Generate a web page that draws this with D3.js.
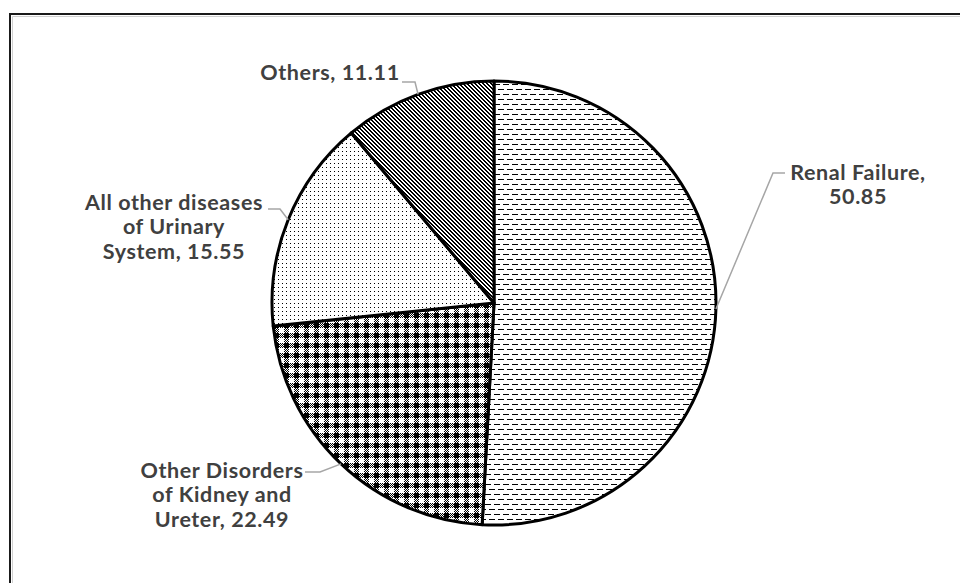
<!DOCTYPE html>
<html>
<head>
<meta charset="utf-8">
<script src="https://cdn.jsdelivr.net/npm/d3@7"></script>
<style>
  html, body { margin: 0; padding: 0; background: #fff; }
  svg { display: block; }
  .lbl { font-family: Lato, "Open Sans", sans-serif; font-weight: bold; fill: #404040; font-size: 21.5px; letter-spacing: 0.6px; }
</style>
</head>
<body>
<div id="chart"></div>
<script>
/* DATA */
const categories = ["Renal Failure", "Other Disorders of Kidney and Ureter", "All other diseases of Urinary System", "Others"];
const values = [50.85, 22.49, 15.55, 11.11];
const labelLines = [
  ["Renal Failure,", "50.85"],
  ["Other Disorders", "of Kidney and", "Ureter, 22.49"],
  ["All other diseases", "of Urinary", "System, 15.55"],
  ["Others, 11.11"]
];
const patternIds = ["hdash", "plaid", "dots", "diag"];

/* LAYOUT */
const width = 960, height = 583;
const cx = 494, cy = 303, radius = 222;
// where each label block sits (center x, first line middle y) and its leader elbow
const labelLayout = [
  { x: 858, y: 172, elbow: [773, 173], end: [785, 173] },
  { x: 222, y: 470, elbow: [320, 472], end: [305, 472] },
  { x: 174, y: 202, elbow: [280, 209], end: [268, 209] },
  { x: 330, y: 72,  elbow: [415, 82],  end: [402, 82] }
];
const lineGap = 24.5;

const svg = d3.select("#chart").append("svg")
  .attr("width", width)
  .attr("height", height);

/* PATTERNS */
const defs = svg.append("defs");

function pixelPattern(id, w, h, test) {
  const p = defs.append("pattern")
    .attr("id", id)
    .attr("patternUnits", "userSpaceOnUse")
    .attr("width", w).attr("height", h);
  p.append("rect").attr("width", w).attr("height", h).attr("fill", "#fff");
  for (let y = 0; y < h; y++) {
    for (let x = 0; x < w; x++) {
      if (test(x, y)) p.append("rect").attr("x", x).attr("y", y).attr("width", 1).attr("height", 1).attr("fill", "#000");
    }
  }
}

// horizontal dashes, rows offset
pixelPattern("hdash", 9, 10, (x, y) => (y === 1 && x < 6) || (y === 6 && (x >= 4 || x < 1)));
// plaid: big black blocks + fine checker
pixelPattern("plaid", 10, 10, (x, y) => {
  if (x < 5 && y < 5) return true;
  if (x >= 5 && y >= 5) return false;
  return (x + y) % 2 === 0;
});
// small dots
pixelPattern("dots", 4, 4, (x, y) => x === 0 && y === 0);
// diagonal stripes "\"
pixelPattern("diag", 4, 4, (x, y) => ((x - y + 8) % 4) < 2);

/* FRAME */
svg.append("rect")
  .attr("x", 10).attr("y", 14)
  .attr("width", 1000).attr("height", 1000)
  .attr("fill", "none")
  .attr("stroke", "#1a1a1a")
  .attr("stroke-width", 2);
svg.append("path")
  .attr("d", "M12.5,1000V16.5H1000")
  .attr("fill", "none")
  .attr("stroke", "#d0d0d0")
  .attr("stroke-width", 1);

/* PIE */
const pie = d3.pie().sort(null).value(d => d)(values);
const arc = d3.arc().innerRadius(0).outerRadius(radius);

const g = svg.append("g").attr("transform", `translate(${cx},${cy})`);

g.selectAll("path.slice")
  .data(pie)
  .join("path")
  .attr("class", "slice")
  .attr("d", arc)
  .attr("fill", (d, i) => `url(#${patternIds[i]})`)
  .attr("stroke", "#000")
  .attr("stroke-width", 3)
  .attr("stroke-linejoin", "round");

/* LEADER LINES */
svg.selectAll("polyline.leader")
  .data(pie)
  .join("polyline")
  .attr("class", "leader")
  .attr("fill", "none")
  .attr("stroke", "#a6a6a6")
  .attr("stroke-width", 1.5)
  .attr("points", (d, i) => {
    const a = (d.startAngle + d.endAngle) / 2;
    const p0 = [cx + radius * Math.sin(a), cy - radius * Math.cos(a)];
    const L = labelLayout[i];
    return [p0, L.elbow, L.end].map(p => p.join(",")).join(" ");
  });

/* LABELS */
const labels = svg.selectAll("text.lbl")
  .data(labelLines)
  .join("text")
  .attr("class", "lbl")
  .attr("text-anchor", "middle");

labels.selectAll("tspan")
  .data((d, i) => d.map((t, j) => ({ t, j, i })))
  .join("tspan")
  .attr("x", d => labelLayout[d.i].x)
  .attr("y", d => labelLayout[d.i].y + d.j * lineGap)
  .attr("dy", "0.35em")
  .text(d => d.t);
</script>
</body>
</html>
